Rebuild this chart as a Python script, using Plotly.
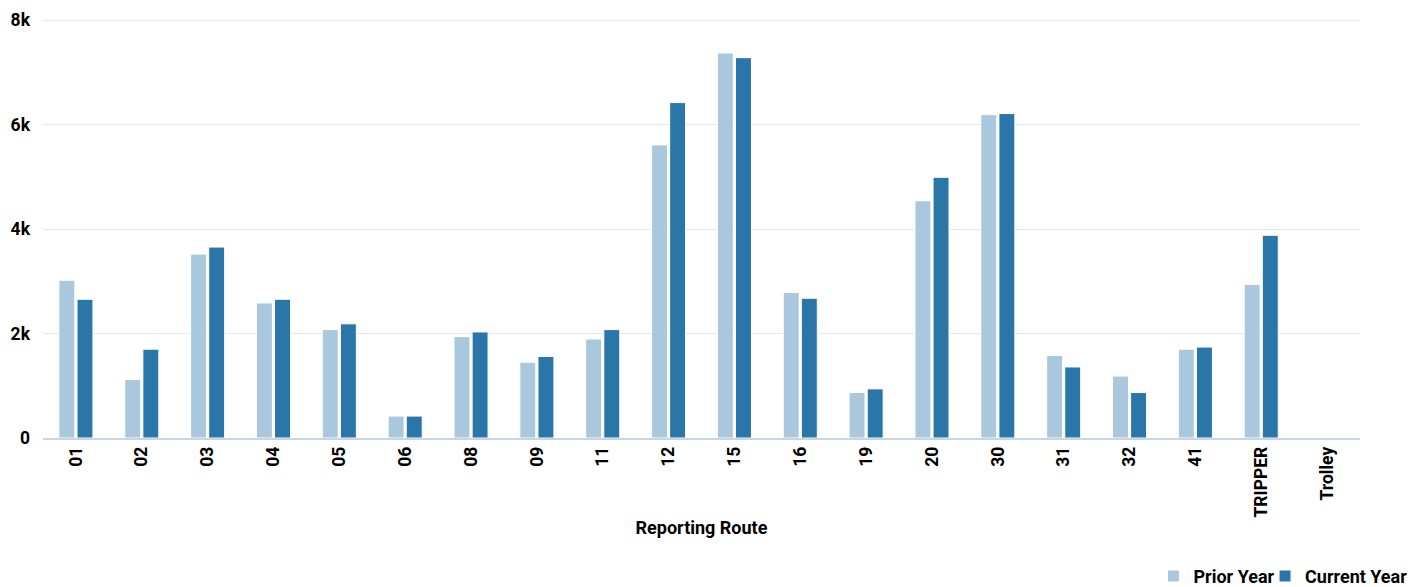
import plotly.graph_objects as go

routes = ["01", "02", "03", "04", "05", "06", "08", "09", "11", "12",
          "15", "16", "19", "20", "30", "31", "32", "41", "TRIPPER", "Trolley"]
prior_year = [3020, 1120, 3520, 2585, 2075, 420, 1940, 1450, 1895, 5610,
              7370, 2785, 870, 4540, 6190, 1580, 1185, 1700, 2940, None]
current_year = [2655, 1700, 3655, 2655, 2185, 420, 2030, 1560, 2075, 6420,
                7280, 2675, 940, 4990, 6210, 1360, 870, 1740, 3880, None]
y_tick_vals = [0, 2000, 4000, 6000, 8000]
y_tick_text = ["0", "2k", "4k", "6k", "8k"]

def bold(size):
    return dict(family="Roboto", size=size, color="#000000", weight="bold")

fig = go.Figure()
fig.add_trace(go.Bar(name="Prior Year", x=routes, y=prior_year, legend="legend",
                     marker=dict(color="#aac8dd", line=dict(color="#ffffff", width=1))))
fig.add_trace(go.Bar(name="Current Year", x=routes, y=current_year, legend="legend2",
                     marker=dict(color="#2b76a9", line=dict(color="#ffffff", width=1))))

legend_common = dict(orientation="h", xanchor="left", y=-0.33, yanchor="middle",
                     font=bold(18), itemwidth=30, bgcolor="rgba(0,0,0,0)")

fig.update_layout(
    width=1419, height=579,
    margin=dict(l=35, r=67, t=10.5, b=149, autoexpand=False),
    paper_bgcolor="#ffffff", plot_bgcolor="#ffffff",
    barmode="group", bargap=0.45, bargroupgap=0.12,
    font=bold(17),
    showlegend=True,
    legend=dict(x=0.8432, **legend_common),
    legend2=dict(x=0.9279, **legend_common),
    xaxis=dict(type="category", tickangle=-90, showgrid=False,
               showline=True, linecolor="#c6d6e6", linewidth=1.5,
               ticks="", tickfont=bold(17.5),
               title=dict(text="Reporting Route", standoff=5, font=bold(18)),
               automargin=False),
    yaxis=dict(range=[0, 8020], tickvals=y_tick_vals, ticktext=y_tick_text,
               showgrid=True, gridcolor="#e3e8ef", gridwidth=1,
               zeroline=False, showline=False, ticks="",
               ticklabelstandoff=12, tickfont=bold(17.5),
               automargin=False),
)

fig.write_html("out.html")
